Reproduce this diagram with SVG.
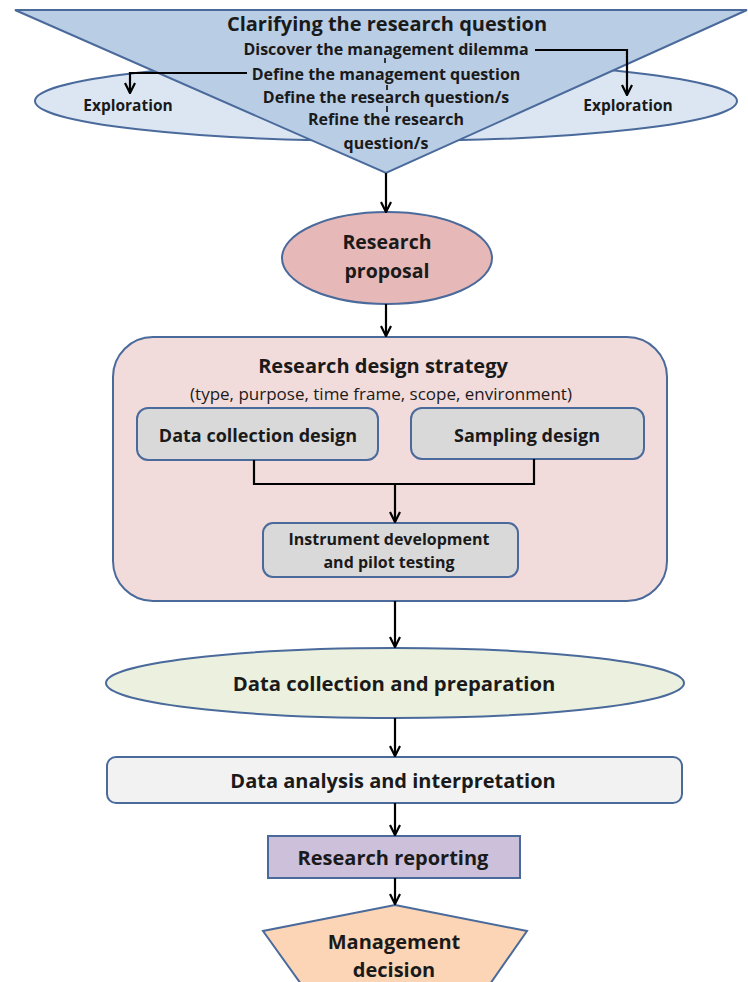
<svg xmlns="http://www.w3.org/2000/svg" width="748" height="982" viewBox="0 0 748 982">
<defs>
<marker id="ah" viewBox="0 0 12 12" refX="11" refY="6" markerWidth="12" markerHeight="12" markerUnits="userSpaceOnUse" orient="auto">
<path d="M1,1 L11,6 L1,11" fill="none" stroke="#000" stroke-width="2.2"/>
</marker>
</defs>
<style>
text{font-family:"Open Sans","Liberation Sans",sans-serif;font-weight:bold;fill:#1a1a1a;text-anchor:middle;dominant-baseline:central}
text.n{font-weight:normal}
.c{fill:none;stroke:#000;stroke-width:2.2}
.t{stroke:#000;stroke-width:1.5}
.a{marker-end:url(#ah)}
.sh{stroke:#4a6a9b;stroke-width:2}
</style>
<g id="exploration-ellipse">
<ellipse cx="386" cy="101" rx="351" ry="40" fill="#dce6f2" class="sh"/>
<text x="128" y="105" font-size="15.5">Exploration</text>
<text x="628" y="105" font-size="15.5">Exploration</text>
</g>
<g id="clarify">
<polygon points="15,10 747,10 386,173" fill="#b9cde5" class="sh"/>
<text x="387" y="23" font-size="20">Clarifying the research question</text>
<text x="386" y="49" font-size="16">Discover the management dilemma</text>
<text x="386" y="74" font-size="16">Define the management question</text>
<text x="386" y="97" font-size="16">Define the research question/s</text>
<text x="386" y="119" font-size="16">Refine the research</text>
<text x="386" y="143" font-size="16">question/s</text>
</g>
<g id="proposal">
<ellipse cx="387" cy="258" rx="105" ry="46" fill="#e6b9b8" class="sh"/>
<text x="387" y="241" font-size="19.5">Research</text>
<text x="387" y="270" font-size="19.5">proposal</text>
</g>
<g id="design-strategy">
<rect x="113" y="337" width="554" height="264" rx="40" fill="#f2dcdb" class="sh"/>
<text x="383" y="365" font-size="20">Research design strategy</text>
<text class="n" x="381" y="393" font-size="17">(type, purpose, time frame, scope, environment)</text>
</g>
<g id="data-collection-design">
<rect x="137" y="408" width="241" height="52" rx="11" fill="#d9d9d9" class="sh"/>
<text x="258" y="435" font-size="18">Data collection design</text>
</g>
<g id="sampling-design">
<rect x="411" y="408" width="233" height="51" rx="11" fill="#d9d9d9" class="sh"/>
<text x="527" y="435" font-size="18">Sampling design</text>
</g>
<g id="instrument">
<rect x="263" y="523" width="255" height="54" rx="10" fill="#d9d9d9" class="sh"/>
<text x="389" y="539" font-size="16">Instrument development</text>
<text x="389" y="562" font-size="16">and pilot testing</text>
</g>
<g id="data-collection-prep">
<ellipse cx="395" cy="683" rx="289" ry="35" fill="#ebf1de" class="sh"/>
<text x="394" y="683" font-size="20.3">Data collection and preparation</text>
</g>
<g id="analysis">
<rect x="107" y="757" width="575" height="46" rx="9" fill="#f2f2f2" class="sh"/>
<text x="393" y="780" font-size="20">Data analysis and interpretation</text>
</g>
<g id="reporting">
<rect x="268" y="836" width="252" height="42" fill="#ccc0da" class="sh"/>
<text x="393" y="857" font-size="20">Research reporting</text>
</g>
<g id="decision">
<polygon points="395,905 527,931 490,984 301,984 263,931" fill="#fbd5b5" class="sh"/>
<text x="394" y="941" font-size="20">Management</text>
<text x="394" y="969" font-size="20">decision</text>
</g>
<g id="connectors">
<polyline class="c a" points="535,50 627,50 627,95"/>
<polyline class="c a" points="247,73 130,73 130,93"/>
<line class="t" x1="385" y1="58" x2="385" y2="63"/>
<line class="t" x1="387" y1="85" x2="387" y2="90"/>
<line class="t" x1="387" y1="106" x2="387" y2="112"/>
<line class="c a" x1="386" y1="173" x2="386" y2="212"/>
<line class="c a" x1="386" y1="304" x2="386" y2="336"/>
<polyline class="c" points="254,460 254,484 534,484 534,459"/>
<line class="c a" x1="395" y1="484" x2="395" y2="522"/>
<line class="c a" x1="395" y1="601" x2="395" y2="647"/>
<line class="c a" x1="395" y1="718" x2="395" y2="756"/>
<line class="c a" x1="395" y1="803" x2="395" y2="835"/>
<line class="c a" x1="395" y1="878" x2="395" y2="904"/>
</g>
</svg>
